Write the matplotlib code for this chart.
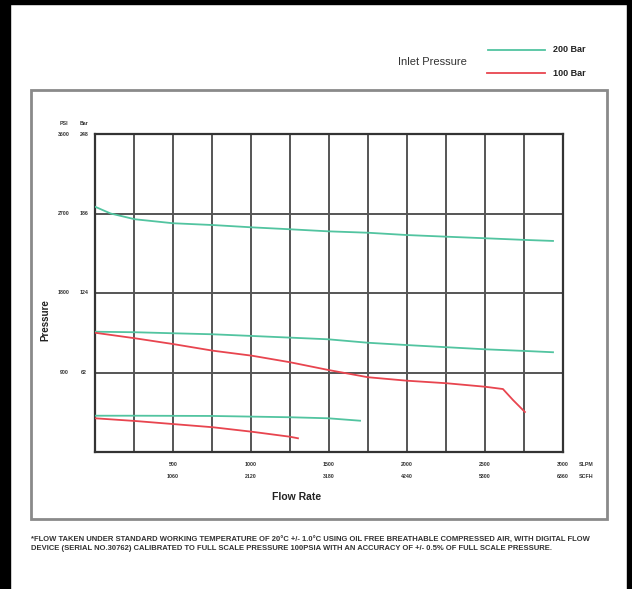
import matplotlib
matplotlib.use("Agg")
import matplotlib.pyplot as plt
from matplotlib.patches import Rectangle

plt.rcParams['font.family'] = ['Liberation Sans', 'DejaVu Sans']

# flow in SLPM, pressure in bar
flow_200_hi = [0, 100, 256, 500, 756, 1006, 1250, 1494, 1750, 2000, 2256, 2500, 2756, 2936]
pres_200_hi = [191.3, 186.0, 181.5, 178.4, 177.0, 175.2, 173.7, 172.1, 171.0, 169.2, 167.9, 166.7, 165.4, 164.6]

flow_200_mid = [0, 256, 500, 756, 1006, 1250, 1494, 1750, 2000, 2256, 2500, 2756, 2936]
pres_200_mid = [93.8, 93.4, 92.6, 91.8, 90.5, 89.2, 87.9, 85.2, 83.4, 81.7, 80.1, 78.8, 77.8]

flow_100_mid = [0, 256, 500, 756, 1006, 1250, 1494, 1750, 2000, 2256, 2500, 2615, 2679, 2756]
pres_100_mid = [93.0, 88.7, 84.2, 79.0, 75.1, 70.0, 64.0, 58.3, 55.6, 53.6, 50.9, 49.1, 40.6, 31.2]

flow_200_lo = [0, 256, 756, 1250, 1494, 1699]
pres_200_lo = [28.3, 28.3, 28.1, 27.1, 26.3, 24.4]

flow_100_lo = [0, 256, 500, 756, 1006, 1250, 1301]
pres_100_lo = [26.3, 24.2, 21.8, 19.3, 15.8, 11.9, 10.7]

slpm_ticks = [500, 1000, 1500, 2000, 2500, 3000]
scfh_labels = ['1060', '2120', '3180', '4240', '5300', '6360']
bar_ticks = [62, 124, 186, 248]
psi_labels = ['900', '1800', '2700', '3600']

green = '#52c4a0'
red = '#e8454f'

fig = plt.figure(figsize=(6.32, 5.89), dpi=100)
W, H = 632, 589

def fx(px):
    return px / W

def fy(py):
    return 1 - py / H

# black edges of the scan
for (x0, y0, w, h) in [(0, 0, 10, H), (627, 0, 5, H), (0, 0, W, 4)]:
    fig.patches.append(Rectangle((fx(x0), fy(y0 + h)), w / W, h / H,
                                 transform=fig.transFigure, color='black', zorder=0))

# gray frame round the chart
fig.patches.append(Rectangle((fx(31), fy(519)), (607 - 31) / W, (519 - 90) / H,
                             transform=fig.transFigure, fill=False,
                             edgecolor='#8a8a8a', linewidth=2))

ax = fig.add_axes([fx(95), fy(452), (563 - 95) / W, (452 - 134) / H])
ax.set_xlim(0, 3000)
ax.set_ylim(0, 248)

for xv in range(250, 3000, 250):
    ax.axvline(xv, color='#555555', linewidth=1.4, zorder=1)
for yv in bar_ticks[:-1]:
    ax.axhline(yv, color='#555555', linewidth=1.4, zorder=1)
for s in ax.spines.values():
    s.set_color('#333333')
    s.set_linewidth(1.6)

ax.plot(flow_200_hi, pres_200_hi, color=green, linewidth=1.3, zorder=3)
ax.plot(flow_200_mid, pres_200_mid, color=green, linewidth=1.3, zorder=3)
ax.plot(flow_100_mid, pres_100_mid, color=red, linewidth=1.3, zorder=3)
ax.plot(flow_200_lo, pres_200_lo, color=green, linewidth=1.3, zorder=3)
ax.plot(flow_100_lo, pres_100_lo, color=red, linewidth=1.3, zorder=3)

ax.set_xticks([])
ax.set_yticks([])

tk = dict(fontsize=3.8, color='#333333', fontweight='bold', clip_on=False)
for v, lab in zip(slpm_ticks, scfh_labels):
    ax.text(v, -10, str(v), ha='center', va='center', **tk)
    ax.text(v, -19, lab, ha='center', va='center', **tk)
ax.text(3150, -10, 'SLPM', ha='center', va='center', **tk)
ax.text(3150, -19, 'SCFH', ha='center', va='center', **tk)

for v, lab in zip(bar_ticks, psi_labels):
    ax.text(-199, v, lab, ha='center', va='center', **tk)
    ax.text(-70, v, str(v), ha='center', va='center', **tk)
ax.text(-199, 256, 'PSI', ha='center', va='center', **tk)
ax.text(-70, 256, 'Bar', ha='center', va='center', **tk)

fig.text(fx(45), fy(320), 'Pressure', rotation=90, ha='center', va='center',
         fontsize=7, fontweight='bold', color='#222222')
fig.text(fx(297), fy(497), 'Flow Rate', ha='center', va='center',
         fontsize=7.5, fontweight='bold', color='#222222')

# legend
fig.text(fx(432), fy(62), 'Inlet Pressure', ha='center', va='center',
         fontsize=8, color='#333333')
fig.add_artist(plt.Line2D([fx(488), fx(545)], [fy(50), fy(50)], color=green, linewidth=1.3))
fig.add_artist(plt.Line2D([fx(487), fx(545)], [fy(73), fy(73)], color=red, linewidth=1.3))
fig.text(fx(553), fy(50), '200 Bar', ha='left', va='center', fontsize=6.5,
         fontweight='bold', color='#222222')
fig.text(fx(553), fy(73), '100 Bar', ha='left', va='center', fontsize=6.5,
         fontweight='bold', color='#222222')

note1 = ('*FLOW TAKEN UNDER STANDARD WORKING TEMPERATURE OF 20\u00b0C +/- 1.0\u00b0C USING OIL FREE '
         'BREATHABLE COMPRESSED AIR, WITH DIGITAL FLOW')
note2 = ('DEVICE (SERIAL NO.30762) CALIBRATED TO FULL SCALE PRESSURE 100PSIA WITH AN ACCURACY '
         'OF +/- 0.5% OF FULL SCALE PRESSURE.')
fig.text(fx(31), fy(540), note1, ha='left', va='center', fontsize=5.5,
         fontweight='bold', color='#333333')
fig.text(fx(31), fy(549), note2, ha='left', va='center', fontsize=5.5,
         fontweight='bold', color='#333333')

fig.savefig('out.png', dpi=100, facecolor='white')
